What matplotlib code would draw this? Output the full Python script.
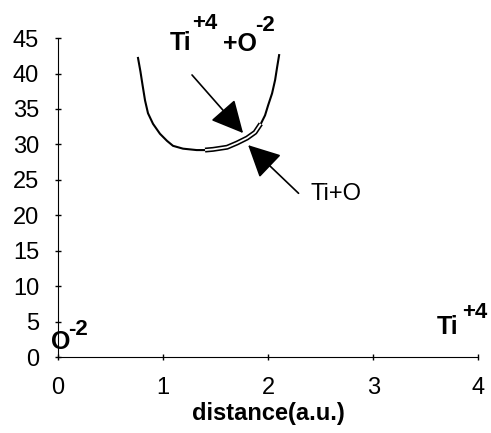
import matplotlib.pyplot as plt

plt.rcParams['font.family'] = ['Liberation Sans', 'DejaVu Sans']

# ionic curve Ti+4 + O-2
ion_x = [0.762, 0.785, 0.805, 0.829, 0.857, 0.905, 0.971, 1.038, 1.095, 1.19, 1.32, 1.45,
         1.476, 1.61, 1.705, 1.80, 1.876, 1.924, 1.971, 2.00, 2.038, 2.067, 2.086, 2.105]
ion_y = [42.2, 40.3, 38.4, 36.2, 34.4, 32.9, 31.5, 30.5, 29.8, 29.4, 29.2, 29.2,
         29.3, 29.6, 30.2, 30.9, 31.7, 32.7, 34.1, 35.5, 37.2, 39.1, 40.9, 42.6]

# neutral curve Ti+O
neu_x = [1.40, 1.476, 1.61, 1.705, 1.80, 1.876, 1.93]
neu_y = [29.2, 29.3, 29.6, 30.2, 30.9, 31.7, 32.9]

xticks = [0, 1, 2, 3, 4]
yticks = [0, 5, 10, 15, 20, 25, 30, 35, 40, 45]

fig = plt.figure(figsize=(4.91, 4.33), dpi=100)
ax = fig.add_axes([0.118, 0.1755, 0.856, 0.7365])

ax.plot(ion_x, ion_y, color='black', lw=1.5)
ax.plot(neu_x, neu_y, color='black', lw=3.6, solid_capstyle='butt')
ax.plot(neu_x, neu_y, color='white', lw=1.3, solid_capstyle='butt')

ax.set_xlim(0, 4)
ax.set_ylim(0, 45)
ax.set_xticks(xticks)
ax.set_yticks(yticks)
ax.tick_params(direction='inout', length=5, width=1, labelsize=17)
ax.tick_params(axis='x', pad=12)
ax.tick_params(axis='y', pad=11)
for s in ['top', 'right']:
    ax.spines[s].set_visible(False)
ax.set_xlabel('distance(a.u.)', fontsize=17, fontweight='bold', labelpad=2)

big = dict(fontweight='bold', fontsize=18, color='black', clip_on=False)
sup = dict(fontweight='bold', fontsize=16, color='black', clip_on=False)
# Ti+4 + O-2 label
ax.text(1.171, 44.3, 'Ti', ha='center', va='center', **big)
ax.text(1.40, 47.0, '+4', ha='center', va='center', **sup)
ax.text(1.733, 44.1, '+O', ha='center', va='center', **big)
ax.text(1.971, 46.8, '-2', ha='center', va='center', **sup)
# Ti+O label
ax.text(2.648, 23.0, 'Ti+O', ha='center', va='center', fontsize=17, color='black')
# ends
ax.text(0.03, 2.1, 'O', ha='center', va='center', **big)
ax.text(0.19, 3.9, '-2', ha='center', va='center', **sup)
ax.text(3.705, 4.2, 'Ti', ha='center', va='center', **big)
ax.text(3.97, 6.3, '+4', ha='center', va='center', **sup)

arrow = dict(arrowstyle='-|>,head_length=1.0,head_width=0.5', mutation_scale=20,
             color='black', lw=1.2, shrinkA=0, shrinkB=0)
ax.annotate('', xy=(1.762, 31.6), xytext=(1.276, 39.8), arrowprops=arrow)
ax.annotate('', xy=(1.81, 29.9), xytext=(2.29, 23.1), arrowprops=arrow)

fig.savefig('out.png', dpi=100)
